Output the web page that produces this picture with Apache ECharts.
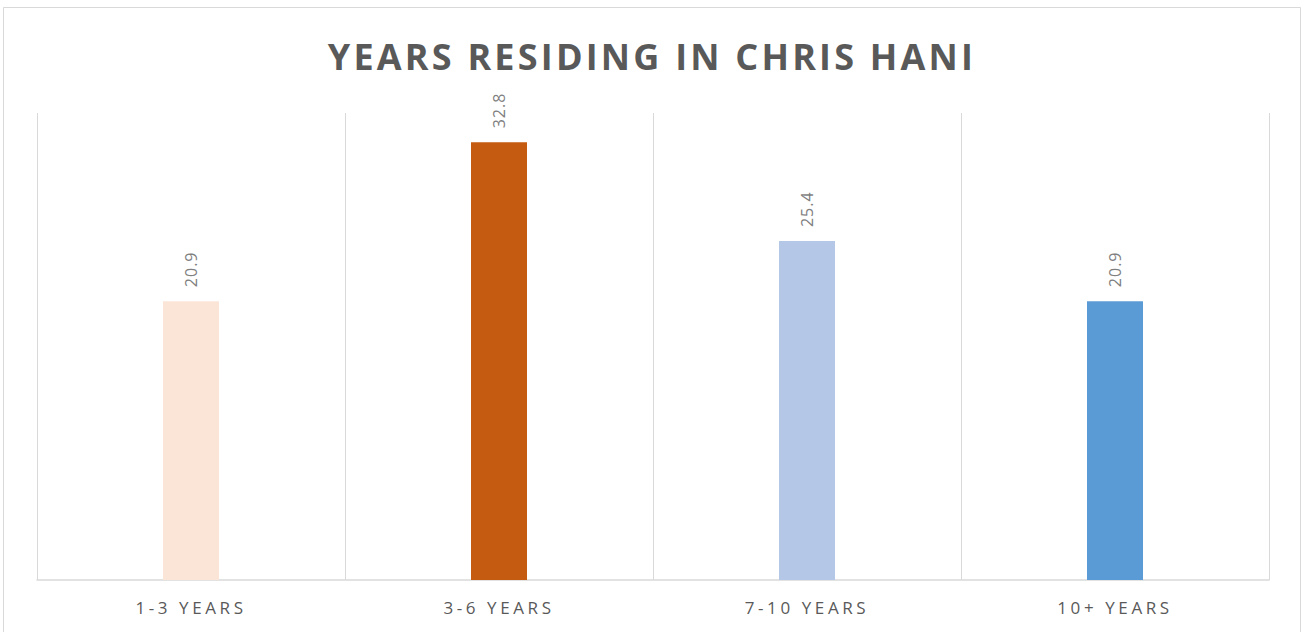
<!DOCTYPE html>
<html>
<head>
<meta charset="utf-8">
<script src="https://cdn.jsdelivr.net/npm/echarts@6/dist/echarts.min.js"></script>
<style>
  html, body { margin: 0; padding: 0; background: #fff; }
  #chart1 { width: 1304px; height: 632px; }
  /* Office-style spaced caps */
  #chart1 text { letter-spacing: 1px; }
  #chart1 text[style*="17px"] { letter-spacing: 3.6px; }
  #chart1 text[style*="36px"] { letter-spacing: 3.2px; }
</style>
</head>
<body>
<div id="chart1"></div>
<script>
var categories = ['1-3 YEARS', '3-6 YEARS', '7-10 YEARS', '10+ YEARS'];
var values = [20.9, 32.8, 25.4, 20.9];
var barColors = ['#FBE5D6', '#C55A11', '#B4C7E7', '#5B9BD5'];

var Chart1 = echarts.init(document.getElementById('chart1'), null, { renderer: 'svg' });
var option1 = {
    backgroundColor: '#fff',
    animation: false,
    title: {
        text: 'YEARS RESIDING IN CHRIS HANI',
        left: 'center',
        top: 33,
        textStyle: {
            fontFamily: 'Open Sans',
            fontWeight: 'bold',
            fontSize: 36,
            color: '#595959'
        }
    },
    graphic: [{
        type: 'rect',
        shape: { x: 3.5, y: 7.5, width: 1297, height: 640 },
        style: { fill: 'none', stroke: '#d9d9d9', lineWidth: 1 },
        silent: true
    }],
    grid: { left: 37, right: 35, top: 113, bottom: 52 },
    xAxis: {
        type: 'category',
        data: categories,
        boundaryGap: true,
        axisLine: { lineStyle: { color: '#d9d9d9', width: 1.5 } },
        axisTick: { show: false },
        splitLine: { show: true, lineStyle: { color: '#d9d9d9', width: 1 } },
        axisLabel: {
            margin: 19,
            fontFamily: 'Open Sans',
            fontSize: 17,
            color: '#595959'
        }
    },
    yAxis: {
        type: 'value',
        min: 0,
        max: 35,
        show: false,
        splitLine: { show: false }
    },
    series: [{
        type: 'bar',
        barWidth: 56,
        data: values.map(function (v, i) {
            return { value: v, itemStyle: { color: barColors[i] } };
        }),
        label: {
            show: true,
            position: 'top',
            rotate: 90,
            align: 'left',
            verticalAlign: 'middle',
            distance: 14,
            fontFamily: 'Open Sans',
            fontSize: 16,
            color: '#7f7f7f'
        }
    }]
};
Chart1.setOption(option1);

window.onresize = function () {
    Chart1.resize();
};
</script>
</body>
</html>
